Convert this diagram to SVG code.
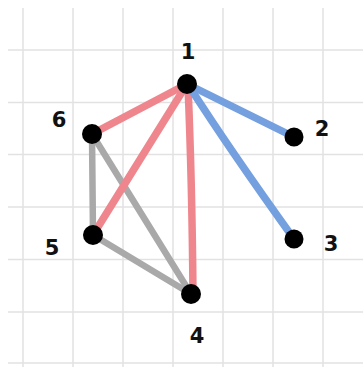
<svg xmlns="http://www.w3.org/2000/svg" width="363" height="367" viewBox="0 0 363 367">
<style>
.grid line{stroke:#e2e2e2;stroke-width:1.5}
.e{fill:none;stroke-linecap:round;stroke-width:7.5}
.red{stroke:#ef868d}
.blue{stroke:#74a0e0}
.gray{stroke:#a9a9a9;stroke-width:6.5}
.n{fill:#000}
.lbl{font-family:"DejaVu Sans",sans-serif;font-size:21px;font-weight:bold;fill:#111;text-anchor:middle}
</style>
<rect width="363" height="367" fill="#fff"/>
<g class="grid">
<line x1="23" y1="8" x2="23" y2="367"/>
<line x1="73" y1="8" x2="73" y2="367"/>
<line x1="123" y1="8" x2="123" y2="367"/>
<line x1="173" y1="8" x2="173" y2="367"/>
<line x1="223" y1="8" x2="223" y2="367"/>
<line x1="273" y1="8" x2="273" y2="367"/>
<line x1="323" y1="8" x2="323" y2="367"/>
<line x1="8" y1="50" x2="363" y2="50"/>
<line x1="8" y1="102.5" x2="363" y2="102.5"/>
<line x1="8" y1="154.5" x2="363" y2="154.5"/>
<line x1="8" y1="207" x2="363" y2="207"/>
<line x1="8" y1="259.5" x2="363" y2="259.5"/>
<line x1="8" y1="312" x2="363" y2="312"/>
<line x1="8" y1="363" x2="363" y2="363"/>
</g>
<g id="connectors">
<line class="e gray" x1="92" y1="134" x2="93" y2="235"/>
<line class="e gray" x1="92" y1="134" x2="191" y2="294"/>
<line class="e gray" x1="93" y1="235" x2="191" y2="294"/>
<line class="e red" x1="187" y1="84" x2="92" y2="134"/>
<line class="e red" x1="187" y1="84" x2="93" y2="235"/>
<path class="e red" d="M188 86 Q192 180 193 294"/>
<line class="e blue" x1="187" y1="84" x2="294" y2="137"/>
<path class="e blue" d="M189 86 Q230 150 294 239"/>
</g>
<g id="node1"><circle class="n" cx="187" cy="84" r="10"/><text class="lbl" x="188" y="59">1</text></g>
<g id="node2"><circle class="n" cx="294" cy="137" r="9.5"/><text class="lbl" x="322" y="136">2</text></g>
<g id="node3"><circle class="n" cx="294" cy="239" r="9.5"/><text class="lbl" x="331" y="251">3</text></g>
<g id="node4"><circle class="n" cx="191" cy="294" r="10"/><text class="lbl" x="197" y="343">4</text></g>
<g id="node5"><circle class="n" cx="93" cy="235" r="10"/><text class="lbl" x="52" y="255">5</text></g>
<g id="node6"><circle class="n" cx="92" cy="134" r="10"/><text class="lbl" x="59" y="127">6</text></g>
</svg>
